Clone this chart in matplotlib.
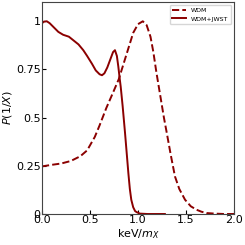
import numpy as np
import matplotlib.pyplot as plt

# WDM (dashed)
x_wdm = [0.0, 0.1, 0.2, 0.3, 0.4, 0.47, 0.55, 0.6, 0.67, 0.74, 0.8, 0.85, 0.9, 0.95,
         1.0, 1.05, 1.09, 1.13, 1.16, 1.19, 1.23, 1.27, 1.3, 1.34, 1.385, 1.43, 1.49,
         1.55, 1.61, 1.66, 1.715, 1.8, 1.9, 2.0]
p_wdm = [0.247, 0.255, 0.262, 0.275, 0.30, 0.33, 0.40, 0.46, 0.55, 0.63, 0.70, 0.78, 0.86, 0.94,
         0.985, 1.0, 0.98, 0.92, 0.84, 0.74, 0.62, 0.50, 0.42, 0.31, 0.195, 0.13, 0.074,
         0.04, 0.022, 0.012, 0.005, 0.002, 0.0, 0.0]

# WDM+JWST (solid)
x_jw = [0.0, 0.02, 0.05, 0.08, 0.12, 0.17, 0.22, 0.28, 0.33, 0.38, 0.43, 0.47, 0.52, 0.56,
        0.6, 0.625, 0.65, 0.68, 0.71, 0.74, 0.76, 0.78, 0.795, 0.81, 0.82, 0.84, 0.865,
        0.88, 0.9, 0.915, 0.93, 0.95, 0.97, 0.985, 1.02, 1.1, 1.28]
p_jw = [0.99, 0.998, 1.0, 0.99, 0.97, 0.945, 0.93, 0.92, 0.90, 0.88, 0.85, 0.82, 0.78, 0.745,
        0.725, 0.72, 0.73, 0.76, 0.80, 0.84, 0.85, 0.82, 0.765, 0.70, 0.66, 0.56, 0.42,
        0.33, 0.21, 0.13, 0.074, 0.035, 0.015, 0.01, 0.002, 0.0, 0.0]

color = '#8b0000'

plt.rcParams['font.size'] = 8
fig = plt.figure(figsize=(2.45, 2.45), dpi=100)
ax = fig.add_axes([42/245, 1-214/245, 192/245, 212/245])

ax.plot(x_wdm, p_wdm, ls='--', c=color, lw=1.4, label='WDM')
ax.plot(x_jw, p_jw, ls='-', c=color, lw=1.4, label='WDM+JWST')

ax.set_xlim(0, 2)
ax.set_ylim(0, 1.1)
ax.set_xticks([0, 0.5, 1.0, 1.5, 2.0])
ax.set_xticklabels(['0.0', '0.5', '1.0', '1.5', '2.0'])
ax.set_yticks([0, 0.25, 0.5, 0.75, 1])
ax.set_yticklabels(['0', '0.25', '0.5', '0.75', '1'])
ax.tick_params(direction='in', labelsize=8, pad=1, length=3)
ax.set_xlabel(r'keV/$m_X$', fontsize=8, labelpad=1)
ax.set_ylabel(r'$P(1/X)$', fontsize=8, labelpad=1)
for s in ax.spines.values():
    s.set_color('#444444')
ax.legend(loc='upper right', fontsize=4.5, handlelength=2.2, frameon=True)

fig.savefig('out.png', dpi=100)
